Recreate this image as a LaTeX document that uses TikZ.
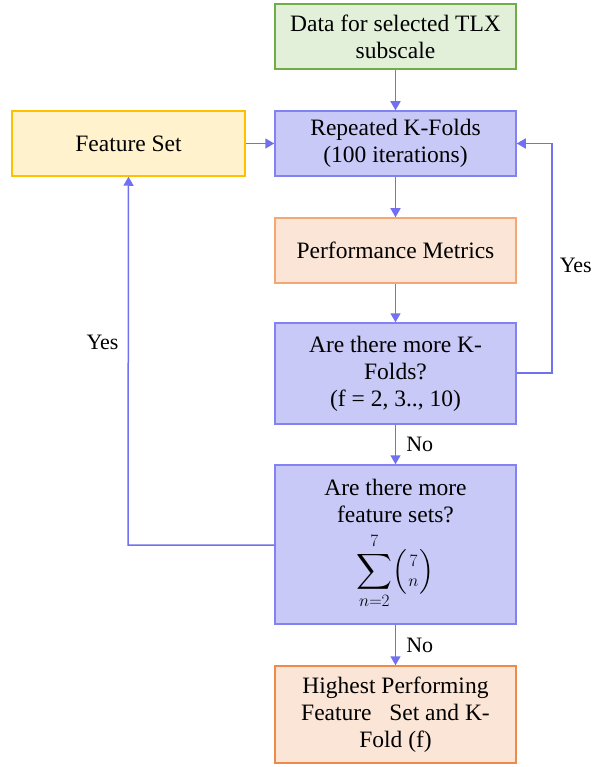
\documentclass[tikz,border=0pt]{standalone}
\usepackage{amsmath}
\usepackage{fontspec}
\setmainfont{Liberation Serif}
\usetikzlibrary{arrows.meta}
\definecolor{greenfill}{HTML}{E2F0D9}
\definecolor{greenline}{HTML}{70AD47}
\definecolor{bluefill}{HTML}{C9C9F8}
\definecolor{blueline}{HTML}{8282F2}
\definecolor{orangefill}{HTML}{FBE5D6}
\definecolor{orangeline}{HTML}{F4A772}
\definecolor{orangedark}{HTML}{F08A4B}
\definecolor{yellowfill}{HTML}{FFF2CC}
\definecolor{yellowline}{HTML}{FFC000}
\definecolor{flow}{HTML}{7070F0}
\tikzset{
  box/.style={draw, line width=1.5pt, minimum width=241pt, inner sep=0pt,
    align=center, font=\fontsize{23.5}{27}\selectfont},
  greenbox/.style={box, fill=greenfill, draw=greenline},
  bluebox/.style={box, fill=bluefill, draw=blueline},
  orangebox/.style={box, fill=orangefill, draw=orangeline},
  yellowbox/.style={box, fill=yellowfill, draw=yellowline},
  flowline/.style={draw=flow, line width=1.5pt, -{Triangle[width=10pt,length=9pt]}},
  lbl/.style={font=\fontsize{22}{26}\selectfont, inner sep=0pt}
}
\begin{document}
\begin{tikzpicture}[x=1pt, y=-1pt]
  \useasboundingbox (0,0) rectangle (595,767);
  \node[greenbox, minimum height=65pt] (data) at (395.5,36.5) {Data for selected TLX\\subscale};
  \node[bluebox, minimum height=65pt] (rep) at (395.5,143.5) {Repeated K-Folds\\(100 iterations)};
  \node[yellowbox, minimum width=233pt, minimum height=65pt] (fs) at (128.5,143.5) {Feature Set};
  \node[orangebox, minimum height=65pt] (perf) at (395.5,250.5) {Performance Metrics};
  \node[bluebox, minimum height=101pt] (kf) at (395.5,373.5) {Are there more K-\\Folds?\\(f = 2, 3.., 10)};
  \node[bluebox, minimum height=159pt] (fsq) at (395.5,544.5) {Are there more\\feature sets?\\[9pt]
    $\displaystyle\sum_{n=2}^{7}\Bigl(\genfrac{}{}{0pt}{1}{7}{n}\Bigr)$};
  \node[orangebox, draw=orangedark, minimum height=97pt] (high) at (395.5,714.5) {Highest Performing\\Feature\ \ \ Set and K-\\Fold (f)};

  \coordinate (rloop) at (552,373);
  \coordinate (lloop) at (128,545);

  \draw[flowline] (data) -- (rep);
  \draw[flowline] (fs) -- (rep);
  \draw[flowline] (rep) -- (perf);
  \draw[flowline] (perf) -- (kf);
  \draw[flowline] (kf) -- node[lbl, right=10pt] {No} (fsq);
  \draw[flowline] (fsq) -- node[lbl, right=10pt] {No} (high);
  \draw[flowline] (kf.east |- rloop) -- (rloop) -- node[lbl, right=7pt, pos=0.47] {Yes} (rloop |- rep.east) -- (rep.east);
  \draw[flowline] (fsq.west |- lloop) -- (lloop) -- node[lbl, left=9pt, pos=0.55] {Yes} (fs.south);
\end{tikzpicture}
\end{document}
